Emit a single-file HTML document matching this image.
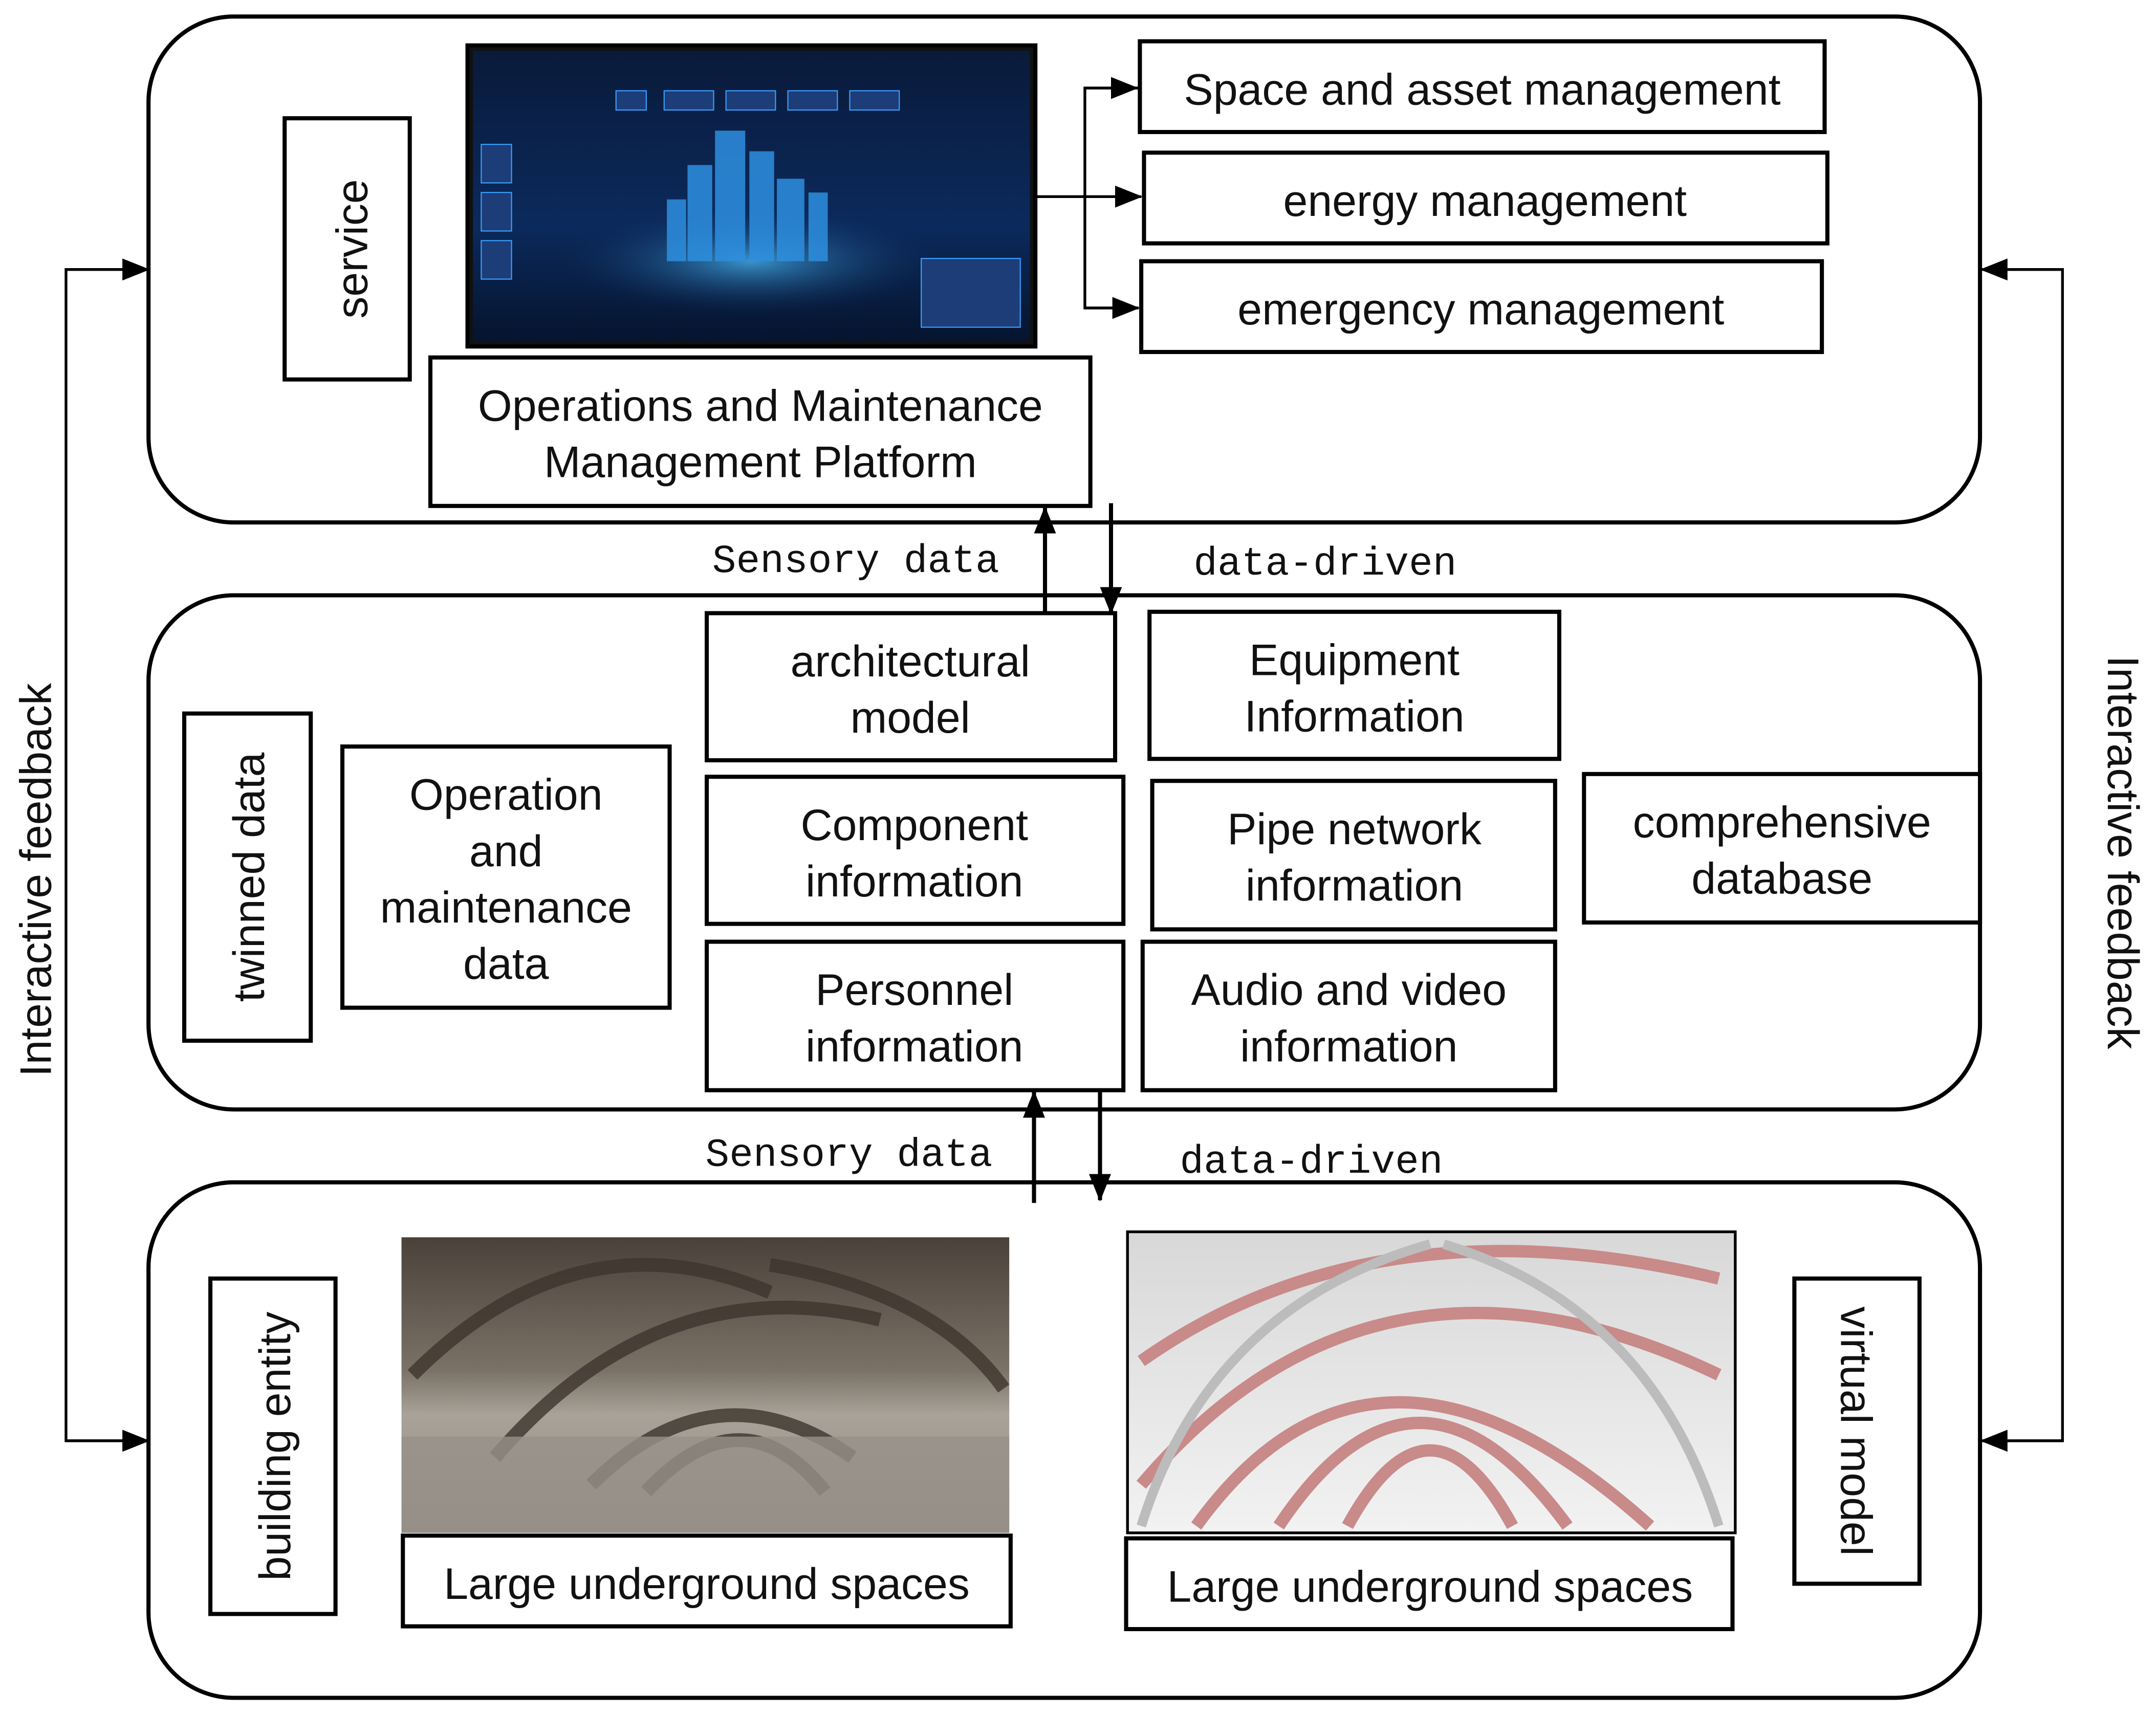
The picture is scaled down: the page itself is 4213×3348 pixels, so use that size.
<!DOCTYPE html>
<html><head><meta charset="utf-8"><style>
html,body{margin:0;padding:0;background:#fff}
svg{display:block}
text{font-family:"Liberation Sans",sans-serif;font-size:32px;fill:#111}
.m{font-family:"Liberation Mono",monospace;font-size:29px}
</style></head><body>
<svg width="4213" height="3348" viewBox="0 0 1568 1246" xmlns="http://www.w3.org/2000/svg">
<defs>
<marker id="b" markerWidth="20" markerHeight="16" refX="19" refY="8" orient="auto" markerUnits="userSpaceOnUse"><path d="M0,0 L20,8 L0,16 z" fill="#000"/></marker>
<linearGradient id="scr" x1="0" y1="0" x2="0" y2="1"><stop offset="0" stop-color="#0a1a3a"/><stop offset="0.6" stop-color="#0b2a5c"/><stop offset="1" stop-color="#06142e"/></linearGradient>
<radialGradient id="glow" cx="0.5" cy="0.5" r="0.5"><stop offset="0" stop-color="#4fc3ff"/><stop offset="1" stop-color="#0b2a5c" stop-opacity="0"/></radialGradient>
<linearGradient id="real" x1="0" y1="0" x2="0" y2="1"><stop offset="0" stop-color="#4a423a"/><stop offset="0.45" stop-color="#7a7266"/><stop offset="0.6" stop-color="#a8a298"/><stop offset="1" stop-color="#8e887e"/></linearGradient>
<linearGradient id="virt" x1="0" y1="0" x2="0" y2="1"><stop offset="0" stop-color="#d8d8d8"/><stop offset="1" stop-color="#f2f2f2"/></linearGradient>
</defs>
<g fill="none" stroke="#000" stroke-width="3">
<rect x="108" y="12" width="1332" height="368" rx="62"/>
<rect x="108" y="433" width="1332" height="374" rx="62"/>
<rect x="108" y="860" width="1332" height="375" rx="62"/>
</g>
<rect x="340" y="33" width="413" height="219" fill="#111" stroke="#000" stroke-width="3"/>
<rect x="344" y="37" width="405" height="211" fill="url(#scr)"/>
<ellipse cx="546" cy="190" rx="140" ry="40" fill="url(#glow)" opacity="0.7"/>
<g fill="#2e8fe0" opacity="0.85">
<rect x="500" y="120" width="18" height="70"/><rect x="520" y="95" width="22" height="95"/><rect x="545" y="110" width="18" height="80"/><rect x="565" y="130" width="20" height="60"/><rect x="588" y="140" width="14" height="50"/><rect x="485" y="145" width="14" height="45"/>
</g>
<g fill="#1c3d78" stroke="#3aa0ff" stroke-width="0.8">
<rect x="448" y="66" width="22" height="14"/><rect x="483" y="66" width="36" height="14"/><rect x="528" y="66" width="36" height="14"/><rect x="573" y="66" width="36" height="14"/><rect x="618" y="66" width="36" height="14"/>
<rect x="350" y="105" width="22" height="28"/><rect x="350" y="140" width="22" height="28"/><rect x="350" y="175" width="22" height="28"/>
<rect x="670" y="188" width="72" height="50"/>
</g>
<g fill="#fff" stroke="#000" stroke-width="3">
<rect x="829" y="30" width="498" height="66"/>
<rect x="832" y="111" width="497" height="66"/>
<rect x="830" y="190" width="495" height="66"/>
<rect x="313" y="260" width="480" height="108"/>
<rect x="207" y="86" width="91" height="190"/>
</g>
<text x="1078" y="76" text-anchor="middle">Space and asset management</text>
<text x="1080" y="157" text-anchor="middle">energy management</text>
<text x="1077" y="236" text-anchor="middle">emergency management</text>
<text x="553" y="306" text-anchor="middle">Operations and Maintenance</text>
<text x="553" y="347" text-anchor="middle">Management Platform</text>
<text transform="translate(267,181) rotate(-90)" text-anchor="middle">service</text>
<g stroke="#000" stroke-width="2" fill="none">
<line x1="753" y1="143" x2="830" y2="143" marker-end="url(#b)"/>
<polyline points="829,64 789,64 789,224 828,224"/>
<line x1="789" y1="64" x2="827" y2="64" marker-end="url(#b)"/>
<line x1="789" y1="224" x2="828" y2="224" marker-end="url(#b)"/>
</g>
<g stroke="#000" stroke-width="3" fill="none">
<line x1="760" y1="445" x2="760" y2="369" marker-end="url(#b)"/>
<line x1="808" y1="366" x2="808" y2="446" marker-end="url(#b)"/>
<line x1="752" y1="875" x2="752" y2="794" marker-end="url(#b)"/>
<line x1="800" y1="793" x2="800" y2="873" marker-end="url(#b)"/>
</g>
<text class="m" x="518" y="416">Sensory data</text>
<text class="m" x="868" y="418">data-driven</text>
<text class="m" x="513" y="848">Sensory data</text>
<text class="m" x="858" y="853">data-driven</text>
<g fill="#fff" stroke="#000" stroke-width="3">
<rect x="134" y="519" width="92" height="238"/>
<rect x="249" y="543" width="238" height="190"/>
<rect x="514" y="446" width="297" height="107"/>
<rect x="836" y="445" width="298" height="107"/>
<rect x="514" y="565" width="303" height="107"/>
<rect x="838" y="568" width="293" height="108"/>
<rect x="1152" y="563" width="288" height="108"/>
<rect x="514" y="685" width="303" height="108"/>
<rect x="831" y="685" width="300" height="108"/>
</g>
<text transform="translate(192,638) rotate(-90)" text-anchor="middle">twinned data</text>
<g text-anchor="middle">
<text x="368" y="589">Operation</text><text x="368" y="630">and</text><text x="368" y="671">maintenance</text><text x="368" y="712">data</text>
<text x="662" y="492">architectural</text><text x="662" y="533">model</text>
<text x="985" y="491">Equipment</text><text x="985" y="532">Information</text>
<text x="665" y="611">Component</text><text x="665" y="652">information</text>
<text x="985" y="614">Pipe network</text><text x="985" y="655">information</text>
<text x="1296" y="609">comprehensive</text><text x="1296" y="650">database</text>
<text x="665" y="731">Personnel</text><text x="665" y="772">information</text>
<text x="981" y="731">Audio and video</text><text x="981" y="772">information</text>
</g>
<rect x="292" y="900" width="442" height="215" fill="url(#real)"/>
<g fill="none" stroke="#3e362e" stroke-width="10" opacity="0.8">
<path d="M300,1000 Q420,880 560,940"/><path d="M360,1060 Q480,920 640,960"/><path d="M430,1080 Q520,990 620,1060"/><path d="M470,1085 Q540,1010 600,1085"/><path d="M560,920 Q680,940 730,1010"/>
</g>
<rect x="292" y="1045" width="442" height="70" fill="#97918a" opacity="0.8"/>
<rect x="820" y="896" width="442" height="219" fill="url(#virt)" stroke="#000" stroke-width="2"/>
<g fill="none" stroke="#c98a8a" stroke-width="9">
<path d="M830,1080 Q1000,880 1250,1000"/><path d="M870,1110 Q1000,930 1200,1110"/><path d="M930,1110 Q1030,960 1140,1110"/><path d="M980,1110 Q1040,1000 1100,1110"/><path d="M830,990 Q1000,870 1250,930"/>
</g>
<g fill="none" stroke="#bcbcbc" stroke-width="7"><path d="M830,1110 Q880,950 1040,905"/><path d="M1250,1110 Q1200,950 1050,905"/></g>
<g fill="#fff" stroke="#000" stroke-width="3">
<rect x="153" y="930" width="91" height="244"/>
<rect x="293" y="1117" width="442" height="66"/>
<rect x="819" y="1119" width="441" height="66"/>
<rect x="1305" y="930" width="91" height="222"/>
</g>
<text transform="translate(211,1052) rotate(-90)" text-anchor="middle">building entity</text>
<text transform="translate(1339,1041) rotate(90)" text-anchor="middle">virtual model</text>
<text x="514" y="1163" text-anchor="middle">Large underground spaces</text>
<text x="1040" y="1165" text-anchor="middle">Large underground spaces</text>
<g stroke="#000" stroke-width="2" fill="none">
<polyline points="108,196 48,196 48,1048 108,1048"/>
<line x1="48" y1="196" x2="108" y2="196" marker-end="url(#b)"/>
<line x1="48" y1="1048" x2="108" y2="1048" marker-end="url(#b)"/>
<polyline points="1440,196 1500,196 1500,1048 1440,1048"/>
<line x1="1500" y1="196" x2="1441" y2="196" marker-end="url(#b)"/>
<line x1="1500" y1="1048" x2="1441" y2="1048" marker-end="url(#b)"/>
</g>
<text transform="translate(37,640) rotate(-90)" text-anchor="middle">Interactive feedback</text>
<text transform="translate(1533,620) rotate(90)" text-anchor="middle">Interactive feedback</text>
</svg>
</body></html>
